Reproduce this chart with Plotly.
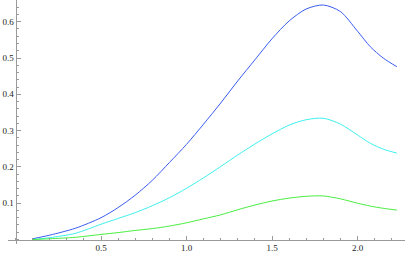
import plotly.graph_objects as go

x_vals = [0.1, 0.2, 0.35, 0.5, 0.6, 0.7, 0.8, 0.9, 1.0, 1.1, 1.2, 1.3, 1.4, 1.5, 1.6, 1.7, 1.8, 1.9, 2.0, 2.075, 2.15, 2.23]
blue = [0.002, 0.012, 0.031, 0.060, 0.088, 0.122, 0.163, 0.212, 0.262, 0.318, 0.376, 0.437, 0.495, 0.553, 0.602, 0.635, 0.646, 0.628, 0.574, 0.531, 0.500, 0.476]
cyan = [0.0, 0.005, 0.017, 0.042, 0.058, 0.074, 0.093, 0.115, 0.141, 0.170, 0.201, 0.233, 0.263, 0.291, 0.315, 0.330, 0.334, 0.318, 0.288, 0.265, 0.249, 0.238]
green = [0.0, 0.002, 0.006, 0.014, 0.019, 0.025, 0.030, 0.037, 0.046, 0.057, 0.068, 0.082, 0.095, 0.106, 0.114, 0.119, 0.120, 0.112, 0.100, 0.092, 0.086, 0.081]

x_ticks = [0.5, 1.0, 1.5, 2.0]
x_ticktext = ["0.5", "1.0", "1.5", "2.0"]
y_ticks = [0.1, 0.2, 0.3, 0.4, 0.5, 0.6]
y_ticktext = ["0.1", "0.2", "0.3", "0.4", "0.5", "0.6"]

W, H = 405, 254
x0px, y0px = 15.5, 239.5
sx, sy = 171.0, 363.0
left_px, bottom_px = 8, 244

fig = go.Figure()
for ys, col in [(blue, "#3a5cf0"), (cyan, "#3ef0ee"), (green, "#48ee40")]:
    fig.add_trace(go.Scatter(x=x_vals, y=ys, mode="lines",
                             line=dict(color=col, width=1, shape="spline", smoothing=0.8),
                             showlegend=False, hoverinfo="skip"))

font = dict(family="Liberation Serif", size=9, color="#222")
axcol = "#9a9a9a"
fig.update_layout(
    width=W, height=H, margin=dict(l=0, r=0, t=0, b=0, autoexpand=False),
    paper_bgcolor="white", plot_bgcolor="white",
    xaxis=dict(domain=[left_px / W, 1], range=[(left_px - x0px) / sx, (W - x0px) / sx],
               anchor="free", position=(H - y0px) / H, automargin=False,
               showgrid=False, zeroline=False, showline=True, linecolor=axcol, linewidth=1,
               tickmode="array", tickvals=x_ticks, ticktext=x_ticktext,
               ticks="inside", ticklen=4, tickcolor=axcol, tickwidth=1, tickfont=font,
               minor=dict(tickmode="linear", tick0=0, dtick=0.1, ticks="inside", ticklen=2,
                          tickcolor=axcol, tickwidth=1)),
    yaxis=dict(domain=[(H - bottom_px) / H, 1], range=[(y0px - bottom_px) / sy, y0px / sy],
               anchor="free", position=x0px / W, automargin=False,
               showgrid=False, zeroline=False, showline=True, linecolor=axcol, linewidth=1,
               tickmode="array", tickvals=y_ticks, ticktext=y_ticktext,
               ticks="inside", ticklen=4, tickcolor=axcol, tickwidth=1, tickfont=font,
               minor=dict(tickmode="linear", tick0=0, dtick=0.02, ticks="inside", ticklen=2,
                          tickcolor=axcol, tickwidth=1)),
)
fig.write_html("out.html", config={"displayModeBar": False, "staticPlot": True},
               post_script="document.body.style.margin='0px';document.body.style.overflow='hidden';")
